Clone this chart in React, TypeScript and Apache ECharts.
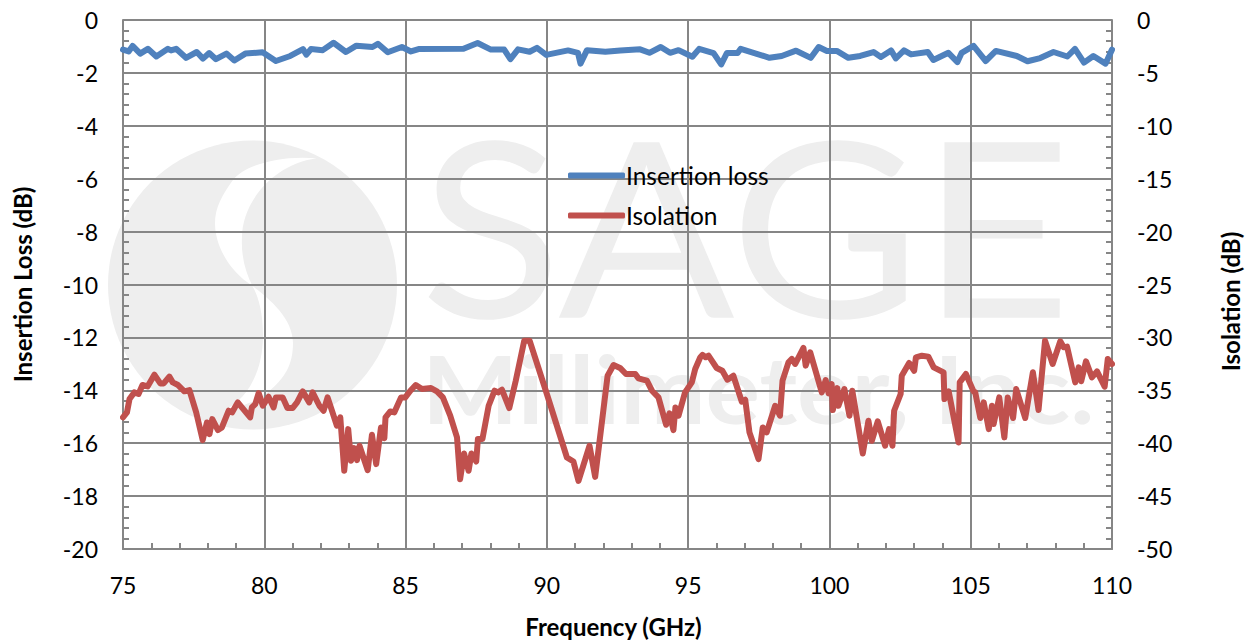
import React, { useEffect, useRef } from "react";
import * as echarts from "echarts";

const FONT = "Lato, 'Open Sans', sans-serif";

const lossFreq = [75.0,75.2,75.34,75.61,75.88,76.18,76.59,76.7,76.88,77.23,77.61,77.83,78.05,78.29,78.66,78.94,79.33,79.94,80.41,80.92,81.37,81.49,81.65,82.07,82.45,82.89,83.26,83.83,84.02,84.37,84.87,85.19,85.46,87.05,87.55,88.02,88.49,88.71,88.98,89.39,89.65,89.98,90.75,91.1,91.19,91.42,92.07,92.6,93.3,93.63,94.03,94.36,94.66,95.15,95.39,95.9,96.17,96.37,96.75,96.86,97.88,98.31,98.82,99.34,99.62,99.91,100.26,100.67,101.09,101.56,101.82,102.18,102.35,102.64,102.89,103.48,103.68,104.21,104.53,104.68,105.1,105.53,105.89,106.63,107.01,107.46,107.93,108.42,108.69,109.01,109.34,109.77,110];
const lossValues = [-1.12,-1.19,-0.98,-1.27,-1.09,-1.38,-1.09,-1.15,-1.09,-1.43,-1.21,-1.46,-1.25,-1.48,-1.27,-1.53,-1.27,-1.22,-1.55,-1.36,-1.1,-1.31,-1.1,-1.14,-0.86,-1.21,-0.97,-1.02,-0.9,-1.22,-1.02,-1.19,-1.1,-1.09,-0.87,-1.12,-1.12,-1.48,-1.11,-1.2,-1.05,-1.32,-1.15,-1.24,-1.65,-1.14,-1.2,-1.15,-1.11,-1.24,-1.02,-1.24,-1.14,-1.39,-1.09,-1.25,-1.68,-1.25,-1.25,-1.09,-1.43,-1.36,-1.16,-1.43,-1.02,-1.17,-1.17,-1.43,-1.36,-1.21,-1.4,-1.15,-1.45,-1.15,-1.3,-1.21,-1.51,-1.24,-1.59,-1.24,-0.98,-1.55,-1.17,-1.36,-1.56,-1.44,-1.21,-1.38,-1.09,-1.61,-1.36,-1.65,-1.12];

const isoFreq = [75,75.14,75.23,75.4,75.55,75.69,75.87,76.11,76.32,76.44,76.64,76.76,76.93,77.17,77.35,77.59,77.82,77.97,78.06,78.16,78.36,78.5,78.74,78.86,79.06,79.5,79.56,79.68,79.8,79.95,80.15,80.33,80.41,80.65,80.82,81,81.16,81.36,81.59,81.71,81.95,82.1,82.24,82.57,82.69,82.83,82.97,83.07,83.18,83.28,83.37,83.66,83.81,83.96,84.13,84.25,84.29,84.46,84.6,84.84,84.99,85.17,85.36,85.58,85.9,86.11,86.32,86.58,86.82,86.93,87.07,87.23,87.33,87.5,87.56,87.72,87.94,88.15,88.27,88.41,88.67,88.9,89.2,89.39,90,90.71,90.94,91.12,91.51,91.71,92.15,92.36,92.59,92.8,93.13,93.24,93.54,93.72,93.95,94.22,94.34,94.48,94.55,94.66,94.89,95.13,95.25,95.43,95.51,95.62,95.72,96.01,96.21,96.39,96.6,96.9,97.02,97.17,97.49,97.64,97.78,98.08,98.25,98.34,98.55,98.67,98.79,99.08,99.16,99.32,99.73,99.87,99.97,100.08,100.12,100.28,100.32,100.53,100.71,100.81,101.18,101.38,101.5,101.71,101.97,102.11,102.23,102.29,102.52,102.56,102.82,103,103.06,103.27,103.5,103.69,104.04,104.07,104.22,104.57,104.61,104.83,105.1,105.16,105.34,105.46,105.64,105.75,105.81,106.01,106.19,106.31,106.5,106.61,106.93,107.2,107.4,107.63,107.9,108.17,108.29,108.41,108.7,108.82,108.91,109.08,109.29,109.47,109.74,109.85,110];
const isoValues = [-37.56,-37.09,-35.83,-35.2,-35.35,-34.5,-34.63,-33.52,-34.35,-34.35,-33.71,-34.25,-34.47,-35.1,-34.98,-37.09,-39.71,-38.04,-39.14,-37.72,-38.76,-38.51,-36.93,-37.09,-36.14,-37.56,-36.62,-36.3,-35.26,-36.46,-35.61,-36.62,-35.67,-35.67,-36.68,-36.68,-36.14,-35.1,-36.14,-35.2,-36.46,-36.93,-35.67,-38.35,-37.56,-42.61,-38.67,-41.66,-40.46,-41.6,-40.24,-42.55,-39.2,-41.98,-38.51,-39.52,-37.56,-37,-37.09,-35.67,-35.67,-35.04,-34.5,-34.88,-34.79,-35.1,-35.67,-37.4,-39.45,-43.4,-40.97,-42.61,-40.97,-41.73,-39.61,-39.61,-36.46,-35.04,-35.2,-34.94,-36.68,-34.09,-30.31,-30.31,-35.35,-41.35,-41.73,-43.56,-40.24,-43.18,-33.62,-32.61,-32.89,-33.46,-33.46,-33.87,-34.09,-35.04,-35.67,-38.26,-37.18,-38.76,-36.62,-37.4,-35.2,-34.25,-32.99,-31.88,-31.66,-31.88,-31.73,-32.89,-33.15,-34,-33.62,-36.08,-35.89,-38.98,-41.5,-38.51,-38.98,-36.46,-37.4,-34.09,-32.36,-32.04,-32.51,-31,-32.67,-31.41,-35.2,-34.03,-35.29,-34.41,-36.87,-34.79,-36.46,-34.88,-37.4,-35.04,-40.97,-37.88,-39.77,-37.94,-40.24,-38.67,-40.24,-36.93,-35.35,-33.62,-32.42,-33.15,-31.88,-31.73,-31.82,-32.83,-33.3,-35.83,-35.1,-39.93,-34.25,-33.46,-35.1,-35.2,-37.62,-36.14,-38.67,-36.46,-38.19,-35.67,-39.45,-35.67,-37.62,-34.88,-37.62,-33.3,-36.87,-30.31,-32.51,-30.37,-30.94,-30.87,-34.25,-32.83,-34.15,-32.26,-33.78,-33.21,-34.66,-32.04,-32.51];

const seriesNames = ["Insertion loss", "Isolation"];
const seriesColors = ["#4F81BD", "#C0504D"];
const watermarkTitle = "SAGE";
const watermarkSub = "Millimeter, Inc.";
const axisNames = { x: "Frequency (GHz)", left: "Insertion Loss (dB)", right: "Isolation (dB)" };

const GRID = "#868686";
const WM = "#eeeeee";

const SWOOSH = "M316.7 158.3 C280 155 245 165 233 180 C222 195 215 208 215 223 C215 245 228 268 247 282 C262 293 293 315 293 343 C293 365 285 378 267 393 C255 402 238 408 225 410 C245 400 263 375 263 335 C263 312 258 296 253 287 C245 272 241 255 242 237 C242 205 270 165 316.7 158.3 Z";
echarts.graphic.registerShape("swoosh", echarts.graphic.extendPath(SWOOSH as any, {}) as any);

function zip(xs: number[], ys: number[]) {
  return xs.map((x, i) => [x, ys[i]]);
}

export default function App() {
  const ref = useRef<HTMLDivElement>(null);
  useEffect(() => {
    document.body.style.margin = "0";
    const chart = echarts.init(ref.current!, null, { renderer: "svg" });
    const line = { lineStyle: { color: GRID, width: 2 } };
    const label = { color: "#000", fontFamily: FONT, fontSize: 23 };
    const title = { color: "#000", fontFamily: FONT, fontSize: 24, fontWeight: "bold" as const };
    const tick = { show: true, inside: true, length: 0 };
    const yBase = {
      type: "value" as const,
      max: 0,
      nameLocation: "middle" as const,
      nameRotate: 90,
      axisLine: { show: true, onZero: false, ...line },
      axisTick: tick,
      minorTick: { show: true, splitNumber: 5, length: 6, ...line },
      axisLabel: { ...label, margin: 25, padding: [0, 0, 9, 0] },
    };
    chart.setOption({
      animation: false,
      backgroundColor: "#fff",
      grid: { left: 123, right: 137, top: 20, height: 529, outerBoundsMode: "none" },
      legend: {
        left: 563,
        top: 158,
        orient: "vertical",
        itemWidth: 57,
        itemHeight: 6,
        itemGap: 15,
        icon: "roundRect",
        textStyle: { ...label, fontSize: 24.5, padding: [0, 0, 0, -4] },
        data: seriesNames,
      },
      xAxis: {
        type: "value",
        min: 75,
        max: 110,
        interval: 5,
        name: axisNames.x,
        nameLocation: "middle",
        nameGap: 65,
        nameTextStyle: { ...title, padding: [0, 8, 0, 0] },
        axisLine: { show: true, onZero: false, ...line },
        axisTick: tick,
        minorTick: { show: true, splitNumber: 5, length: 6, ...line },
        axisLabel: { ...label, margin: 24, showMinLabel: true, showMaxLabel: true },
        splitLine: { show: true, ...line },
      },
      yAxis: [
        {
          ...yBase,
          min: -20,
          interval: 2,
          name: axisNames.left,
          nameGap: 89,
          nameTextStyle: title,
          splitLine: { show: true, ...line },
        },
        {
          ...yBase,
          min: -50,
          interval: 5,
          position: "right",
          name: axisNames.right,
          nameGap: 106,
          nameTextStyle: { ...title, padding: [0, 34, 0, 0] },
          splitLine: { show: false },
        },
      ],
      graphic: [
        { type: "circle", z: -1, silent: true, shape: { cx: 252.5, cy: 285, r: 144.5 }, style: { fill: WM } },
        { type: "swoosh", z: -1, silent: true, x: 0, y: 0, style: { fill: "#fff" } },
        {
          type: "text",
          z: -1,
          silent: true,
          x: 420,
          y: 223,
          scaleX: 1.065,
          style: { text: watermarkTitle, fill: WM, font: `400 245px ${FONT}`, textAlign: "left", textVerticalAlign: "middle" },
        },
        {
          type: "text",
          z: -1,
          silent: true,
          x: 422,
          y: 388,
          scaleX: 1.085,
          style: { text: watermarkSub, fill: WM, font: `700 94px ${FONT}`, textAlign: "left", textVerticalAlign: "middle" },
        },
      ],
      series: [
        {
          name: seriesNames[0],
          type: "line",
          yAxisIndex: 0,
          showSymbol: false,
          symbol: "none",
          color: seriesColors[0],
          lineStyle: { color: seriesColors[0], width: 6, join: "round", cap: "round" },
          data: zip(lossFreq, lossValues),
        },
        {
          name: seriesNames[1],
          type: "line",
          yAxisIndex: 1,
          showSymbol: false,
          symbol: "none",
          color: seriesColors[1],
          lineStyle: { color: seriesColors[1], width: 6, join: "round", cap: "round" },
          data: zip(isoFreq, isoValues),
        },
      ],
    });
    return () => chart.dispose();
  }, []);
  return <div ref={ref} style={{ width: 1249, height: 641 }} />;
}
